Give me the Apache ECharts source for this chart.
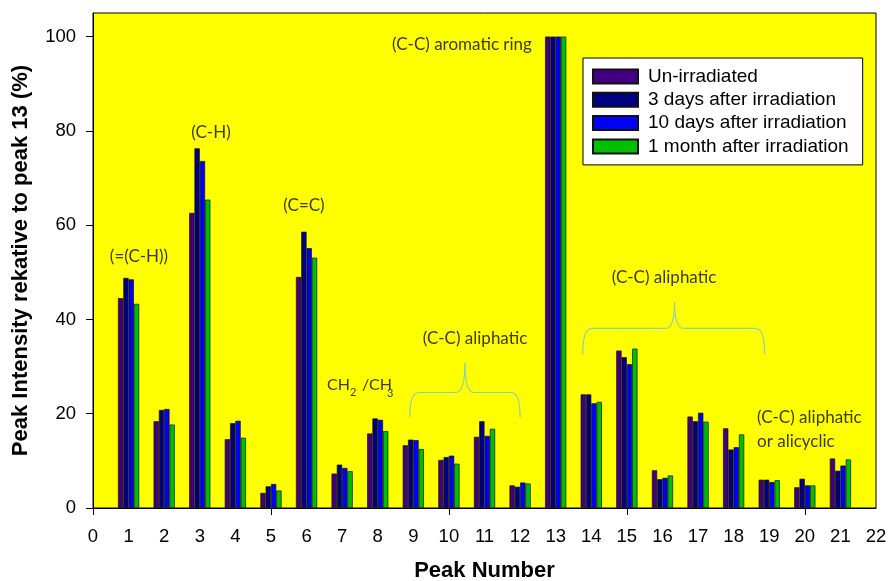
<!DOCTYPE html>
<html>
<head>
<meta charset="utf-8">
<script src="https://cdn.jsdelivr.net/npm/echarts@6/dist/echarts.min.js"></script>
<style>
html,body{margin:0;padding:0;background:#fff;}
#c{width:889px;height:581px;}
</style>
</head>
<body>
<div id="c"></div>
<script>
const peaks = [1,2,3,4,5,6,7,8,9,10,11,12,13,14,15,16,17,18,19,20,21];
const seriesNames = ['Un-irradiated','3 days after irradiation','10 days after irradiation','1 month after irradiation'];
const unIrradiated = [44.5,18.4,62.6,14.6,3.2,49.0,7.3,15.8,13.3,10.2,15.1,4.8,100,24.1,33.4,8.0,19.4,16.9,6.0,4.4,10.5];
const days3 = [48.8,20.8,76.3,18.0,4.6,58.6,9.2,19.0,14.5,10.8,18.4,4.5,100,24.1,32.0,6.1,18.4,12.4,6.0,6.2,7.9];
const days10 = [48.5,21.0,73.6,18.5,5.1,55.1,8.5,18.7,14.4,11.1,15.3,5.4,100,22.2,30.5,6.4,20.2,12.9,5.5,4.8,9.0];
const month1 = [43.3,17.7,65.4,14.9,3.7,53.1,7.8,16.3,12.5,9.4,16.8,5.2,100,22.5,33.8,6.9,18.3,15.6,5.9,4.8,10.3];
const xTickLabels = [0,1,2,3,4,5,6,7,8,9,10,11,12,13,14,15,16,17,18,19,20,21,22];
const yTickLabels = [0,20,40,60,80,100];
const xMajorTicks = [0,5,10,15,20];
const colors = ['#420080','#000080','#0000FF','#00BF00'];
const allValues = [unIrradiated, days3, days10, month1];

const chart = echarts.init(document.getElementById('c'));
const annFont = 'Lato, "Open Sans", sans-serif';
const annColor = '#3b3b1a';
const axisFont = '"Liberation Sans", Arial, sans-serif';

function mkText(x, y, txt, size, align) {
  return {type:'text', x:x, y:y, style:{text:txt, font:(size||17)+'px '+annFont, fill:annColor, align:align||'center', verticalAlign:'middle'}, z:10};
}

const option = {
  animation:false,
  backgroundColor:'#ffffff',
  color: colors,
  grid:{left:93, right:13, top:13, bottom:73, outerBoundsMode:'none', containLabel:false,
        show:true, backgroundColor:'#FFFF00', borderColor:'#000', borderWidth:1},
  legend:{
    orient:'vertical', left:583, top:58,
    backgroundColor:'#fff', borderColor:'#000', borderWidth:1,
    padding:[9,14,9,9],
    itemWidth:45, itemHeight:14, itemGap:4.3,
    icon:'rect',
    textStyle:{fontFamily:axisFont, fontSize:19, lineHeight:19, color:'#000', padding:[0,0,0,5]},
    data: seriesNames
  },
  xAxis:{
    type:'value', min:0, max:22, interval:1,
    name:'Peak Number', nameLocation:'middle', nameGap:52,
    nameTextStyle:{fontFamily:axisFont, fontSize:22, fontWeight:'bold', color:'#000'},
    axisLine:{show:true, lineStyle:{color:'#000', width:1}},
    axisTick:{show:true, inside:false, length:7, lineStyle:{color:'#000'}, customValues:xMajorTicks},
    axisLabel:{fontFamily:axisFont, fontSize:18.5, color:'#000', margin:19, customValues:xTickLabels},
    splitLine:{show:false}
  },
  yAxis:{
    type:'value', min:0, max:105,
    name:'Peak Intensity rekative to peak 13 (%)', nameLocation:'middle', nameGap:61,
    nameTextStyle:{fontFamily:axisFont, fontSize:22, fontWeight:'bold', color:'#000'},
    axisLine:{show:true, lineStyle:{color:'#000', width:1}},
    axisTick:{show:true, inside:false, length:7, lineStyle:{color:'#000'}, customValues:yTickLabels},
    axisLabel:{fontFamily:axisFont, fontSize:18.5, color:'#000', margin:17, customValues:yTickLabels},
    splitLine:{show:false}
  },
  series: seriesNames.map((n,i)=>({
    name:n, type:'bar', barWidth:5.3, barGap:'0%',
    itemStyle:{color:colors[i], borderColor:'#111', borderWidth:0.7},
    data: peaks.map((p,k)=>[p, allValues[i][k]])
  }))
};
chart.setOption(option);

function braceGraphics(xL, xM, xR, yB, yH, yP) {
  const L = chart.convertToPixel({gridIndex:0}, [xL, yB]);
  const H = chart.convertToPixel({gridIndex:0}, [xM, yH]);
  const P = chart.convertToPixel({gridIndex:0}, [xM, yP]);
  const R = chart.convertToPixel({gridIndex:0}, [xR, yB]);
  const r = 9;
  const st = {fill:null, stroke:'#8ccfb0', lineWidth:1.2};
  const yh = H[1];
  return [
    {type:'bezierCurve', shape:{x1:L[0], y1:L[1], x2:L[0]+r, y2:yh, cpx1:L[0], cpy1:yh}, style:st, z:10},
    {type:'line', shape:{x1:L[0]+r, y1:yh, x2:H[0]-r, y2:yh}, style:st, z:10},
    {type:'bezierCurve', shape:{x1:H[0]-r, y1:yh, x2:H[0], y2:P[1], cpx1:H[0], cpy1:yh}, style:st, z:10},
    {type:'bezierCurve', shape:{x1:H[0], y1:P[1], x2:H[0]+r, y2:yh, cpx1:H[0], cpy1:yh}, style:st, z:10},
    {type:'line', shape:{x1:H[0]+r, y1:yh, x2:R[0]-r, y2:yh}, style:st, z:10},
    {type:'bezierCurve', shape:{x1:R[0]-r, y1:yh, x2:R[0], y2:R[1], cpx1:R[0], cpy1:yh}, style:st, z:10}
  ];
}

const graphics = [
  mkText(139, 257, '(=(C-H))'),
  mkText(211, 133, '(C-H)'),
  mkText(304, 206, '(C=C)'),
  mkText(327, 385, 'CH', 16, 'left'),
  mkText(350, 392, '2', 11, 'left'),
  mkText(362, 385, '/CH', 16, 'left'),
  mkText(387, 393, '3', 11, 'left'),
  mkText(475, 339, '(C-C) aliphatic'),
  mkText(462, 45, '(C-C) aromatic ring'),
  mkText(664, 278, '(C-C) aliphatic'),
  mkText(757, 418, '(C-C) aliphatic', 17, 'left'),
  mkText(757, 442, 'or alicyclic', 17, 'left')
].concat(
  braceGraphics(8.9, 10.45, 12.0, 19.2, 24.5, 30.7),
  braceGraphics(13.76, 16.34, 18.87, 32.6, 38.1, 43.7)
);
chart.setOption({graphic: graphics});
</script>
</body>
</html>
